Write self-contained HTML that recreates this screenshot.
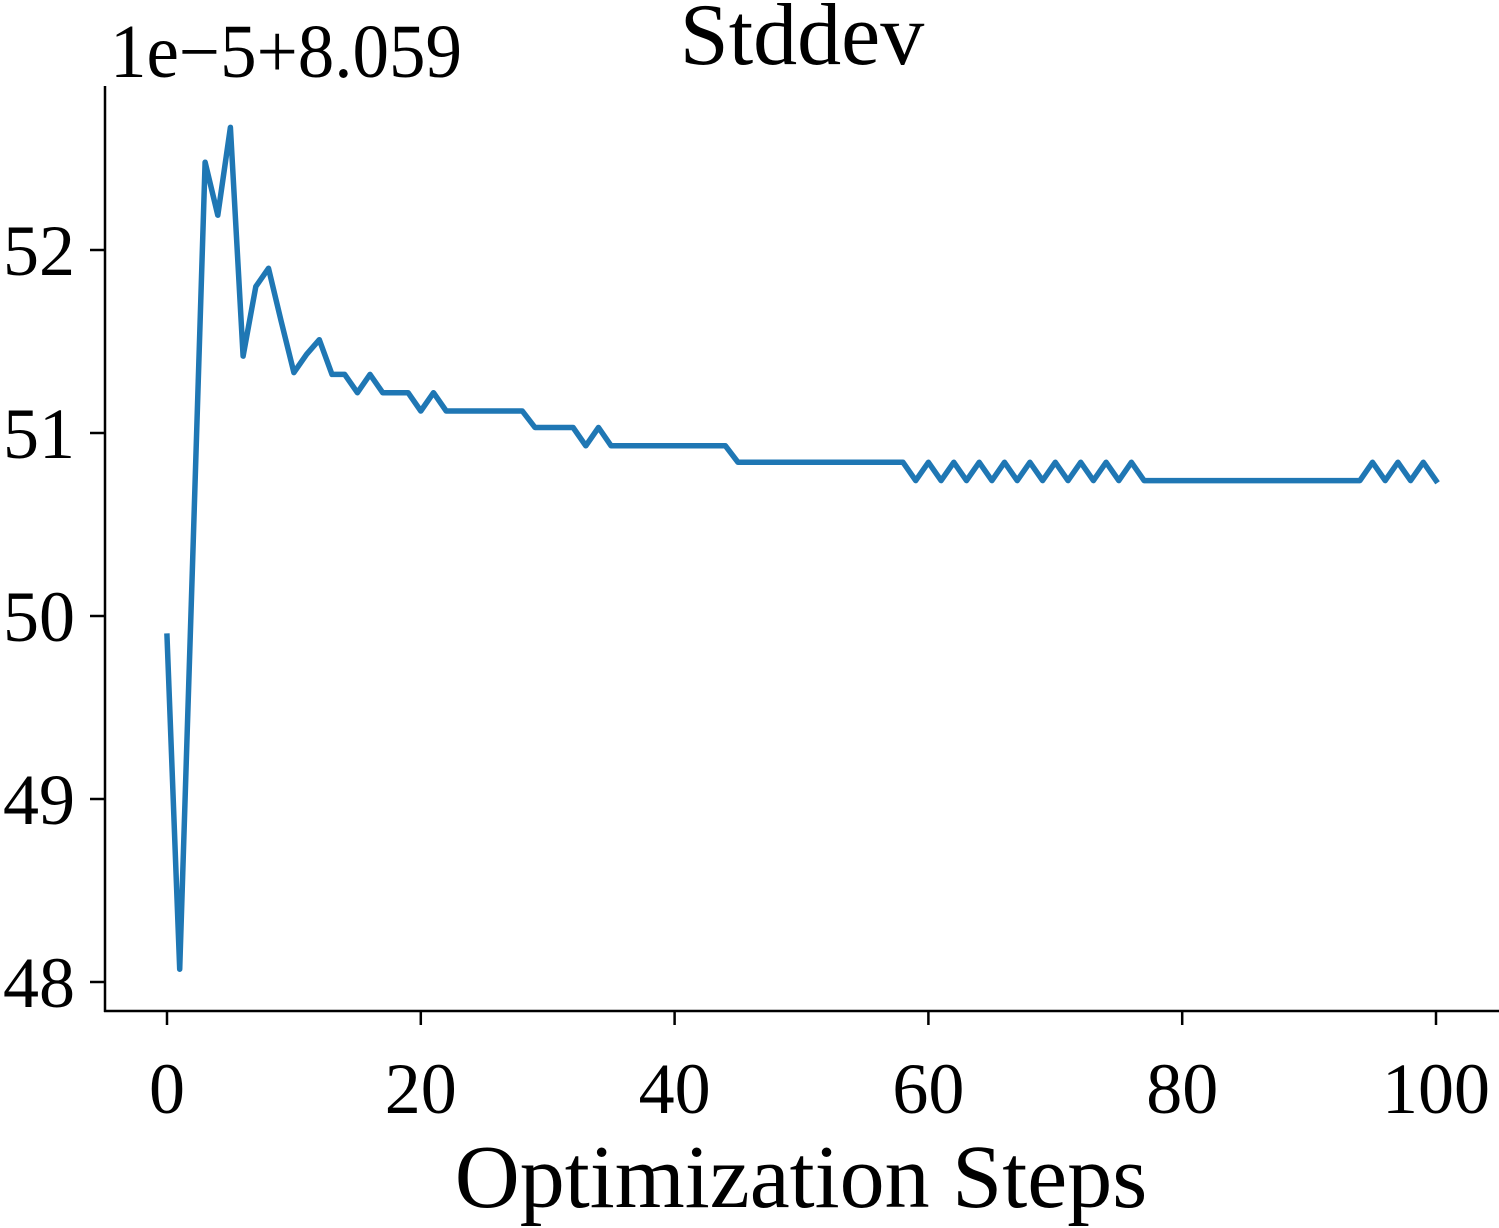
<!DOCTYPE html>
<html><head><meta charset="utf-8"><style>
body{margin:0;background:#fff}
svg{display:block}
text{font-family:"Liberation Serif",serif;fill:#000}
</style></head><body>
<svg id="chart" width="1499" height="1228" viewBox="0 0 1499 1228" xmlns="http://www.w3.org/2000/svg">
<text x="802" y="64" font-size="88" text-anchor="middle">Stddev</text>
<text x="110" y="77" font-size="76" textLength="352" lengthAdjust="spacingAndGlyphs">1e−5+8.059</text>
<text x="801" y="1207" font-size="90" text-anchor="middle">Optimization Steps</text>
<g id="axes"></g>
<g id="plot"></g>
</svg>
<script>
const steps = Array.from({length:101},(_,i)=>i);
const values = [49.89,48.07,50.26,52.48,52.19,52.67,51.42,51.80,51.90,51.61,
51.33,51.43,51.51,51.32,51.32,51.22,51.32,51.22,51.22,51.22,
51.12,51.22,51.12,51.12,51.12,51.12,51.12,51.12,51.12,51.03,
51.03,51.03,51.03,50.93,51.03,50.93,50.93,50.93,50.93,50.93,
50.93,50.93,50.93,50.93,50.93,50.84,50.84,50.84,50.84,50.84,
50.84,50.84,50.84,50.84,50.84,50.84,50.84,50.84,50.84,50.74,
50.84,50.74,50.84,50.74,50.84,50.74,50.84,50.74,50.84,50.74,
50.84,50.74,50.84,50.74,50.84,50.74,50.84,50.74,50.74,50.74,
50.74,50.74,50.74,50.74,50.74,50.74,50.74,50.74,50.74,50.74,
50.74,50.74,50.74,50.74,50.74,50.84,50.74,50.84,50.74,50.84,50.74];
const xTicks = [0,20,40,60,80,100];
const yTicks = [48,49,50,51,52];
const yTickLabels = ["48","49","50","51","52"];

const xs = v => 167 + v*12.69;
const ys = v => 433 - (v-51)*183;
const NS='http://www.w3.org/2000/svg';
const axes=document.getElementById('axes'), plot=document.getElementById('plot');
function mk(tag,attrs,parent){const e=document.createElementNS(NS,tag);for(const k in attrs)e.setAttribute(k,attrs[k]);parent.appendChild(e);return e;}

const ls=mk('line',{x1:105,y1:86,x2:105,y2:1012,stroke:'#000','stroke-width':2.5},axes);


const bs=mk('line',{x1:104,y1:1011,x2:1499,y2:1011,stroke:'#000','stroke-width':2.5},axes);



xTicks.forEach(t=>{
  const l=mk('line',{x1:xs(t),y1:1011,x2:xs(t),y2:1025,stroke:'#000','stroke-width':2.5},axes);
  
  
  const tx=mk('text',{x:xs(t),y:1113,'font-size':72,'text-anchor':'middle'},axes);
  tx.textContent=String(t);
  
  
});
yTicks.forEach((t,i)=>{
  const l=mk('line',{x1:90,y1:ys(t),x2:105,y2:ys(t),stroke:'#000','stroke-width':2.5},axes);
  
  
  const tx=mk('text',{x:75,y:ys(t)+25,'font-size':72,'text-anchor':'end'},axes);
  tx.textContent=yTickLabels[i];
  
  
});
const d=values.map((v,i)=>(i?'L':'M')+xs(steps[i]).toFixed(1)+' '+ys(v).toFixed(1)).join(' ');
const p=mk('path',{d:d,fill:'none',stroke:'#1f77b4','stroke-width':5.5,'stroke-linejoin':'round','stroke-linecap':'square'},plot);


</script>
</body></html>
